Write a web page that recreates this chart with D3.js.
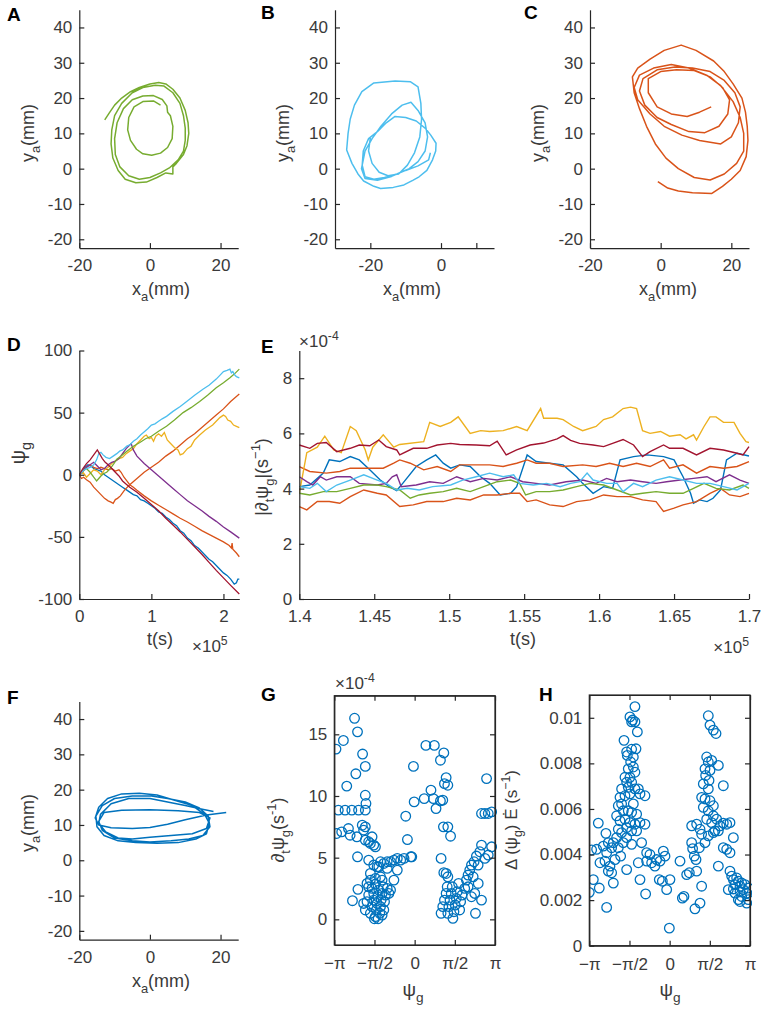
<!DOCTYPE html>
<html><head><meta charset="utf-8">
<script src="https://cdn.jsdelivr.net/npm/d3@7"></script>
<style>body{margin:0;background:#fff} text{font-family:"Liberation Sans",Arial,sans-serif}</style>
</head><body><svg id="c" width="764" height="1012"></svg>
<script>
// ---------------- DATA ----------------
const colors = {blue:'#0072BD', orange:'#D95319', yellow:'#EDB120', purple:'#7E2F8E', green:'#77AC30', lightblue:'#4DBEEE', darkred:'#A2142F'};
const trajTicksY = [-20,-10,0,10,20,30,40];

// Panel A trajectory (x_a, y_a) in mm
const trajA = [[-12.8,13.8],[-11.5,15.8],[-10,18],[-8,20],[-5.5,21.8],[-3,23],[0,24],[2.5,24.4],[4.5,24],[6.5,22.5],[8.5,20],[10,16.5],[10.8,13],[11,10],[10.5,6.5],[9.5,4],[7.5,1.5],[6.5,0.5],[6.5,-1.5],[4.5,-1.2],[2,-2.5],[-1,-3.8],[-4,-4],[-7,-3],[-9,-0.5],[-10.5,3],[-11,7],[-10.8,11],[-10,15],[-8,18.5],[-5,21.5],[-2,23],[1.5,23.6],[4,23.4],[6.5,21.5],[8.5,18.5],[9.5,15],[10,11.5],[10,8],[9.5,5],[8,2.5],[5.5,0.2],[3,-1.2],[0,-2.5],[-3,-3],[-6,-2],[-8.5,0.5],[-9.8,4],[-10,8.5],[-9.3,13],[-7.5,17],[-5,19.5],[-2,20.6],[1,20.7],[3.5,19.6],[4.8,17.8],[5,16],[5.8,15],[6.5,12],[6.3,8.5],[5,6],[3,4.4],[0.5,3.8],[-2,4.2],[-3.8,5.5],[-5.5,8],[-6.3,11],[-6,14.5],[-4.5,17.5],[-2,19],[1,19.2],[3,18]];
// Panel B trajectory
const trajB = [[-20,8.7],[-20.5,5],[-19.5,1.5],[-17.5,-1],[-15,-2],[-12,-1.5],[-9.5,1],[-7.5,4.5],[-6,9],[-5.5,14],[-5.7,18.5],[-6.5,23.2],[-8.6,24.6],[-13,24.8],[-19,24.3],[-22.4,21.8],[-24.5,18],[-25.7,14],[-26.3,10],[-26.7,5.3],[-25.2,1.5],[-23.5,-1.5],[-21.9,-3.5],[-19,-5],[-17.1,-5.6],[-13.5,-5.3],[-10.5,-4.6],[-8,-3.3],[-6.2,-2.3],[-4,-0.5],[-2.4,2.5],[-1.5,5],[-1.4,7.2],[-2.9,9.5],[-4.5,11.5],[-7,13.5],[-10,14.5],[-13,14.8],[-15.5,13],[-18,10.5],[-20.5,8.5],[-22,5],[-22.3,1],[-21.5,-2.3],[-19,-3],[-16,-2.5],[-12.5,-1.5],[-9,0],[-6.5,2],[-4.5,5],[-3.8,9],[-4.5,13],[-6.5,16.5],[-8.5,18.8],[-11,18],[-14,15.5],[-17,12],[-19.5,8.5],[-21.5,5],[-22.5,0],[-21.5,-2.8],[-18,-3.3],[-14,-2.2],[-10,-0.5],[-6.5,0.8],[-3.5,2.5],[-3,4.5]];
// Panel C trajectory
const trajC = [[-0.8,-3.7],[2,-5.5],[5,-6.3],[9,-6.8],[14.5,-7],[17.5,-5],[20,-3],[22.5,-0.5],[24.2,3.4],[24.7,8],[24.5,12],[24,16],[23,20],[20.5,24],[18,27.5],[15,30.5],[10,33.5],[5.8,35],[1,33.5],[-3,31],[-6.5,28.5],[-8,26],[-7.5,21.5],[-6,17],[-4,12],[-1.5,7],[1.5,3],[5,0],[9.5,-2.5],[14,-3.2],[18,-1.5],[21.5,1.5],[23.5,5],[23.5,10],[22.5,14.5],[20.5,19],[17,23.5],[13,26.5],[8,28.5],[3,29.5],[-2,28.5],[-6,26.5],[-7.5,23],[-6.5,19.5],[-3,15.5],[1,12],[6,9.5],[11,8],[17,7],[20,9],[22,13],[22.5,17.5],[21,21.5],[18,25],[14,27.5],[9,28.5],[4,28.8],[-1,28],[-5,25.5],[-6,22],[-4.5,18],[-1,14.5],[3,12.5],[8,10.5],[12.5,10.2],[16.5,12],[19,15.5],[19.5,19.5],[17.5,23],[14,26],[9.5,27.8],[4.5,28],[0,27.5],[-3.5,25.5],[-3.5,21.5],[-1,17.5],[3,15.5],[7.5,14.8],[11,16],[14.3,17.5]];
// Panel F trajectory
const trajF = [[21.6,13.5],[16,12.8],[10,11.5],[5,10.2],[0,9.3],[-5,9],[-11,9.2],[-14.5,10],[-15.5,12],[-14.5,15],[-12,17.5],[-8,18.8],[-3,19],[2,18.5],[7,17],[12,15.5],[15.5,13],[16.8,10.5],[16,7.5],[13,6],[8,5],[2,4.8],[-4,5],[-9,5.5],[-13,7],[-15,9.5],[-15.3,12.5],[-13.5,15.5],[-10,17.5],[-5,18.2],[0,18.3],[5,17.5],[10,16.5],[14,14.8],[16.5,12.5],[17,9.5],[15,7],[11,6],[6,5.5],[0,5.2],[-5,5.5],[-10,6.3],[-13.5,8.5],[-14.5,11],[-13,13.5],[-8,14.2],[0,14.3],[8,14],[14,13.5],[17,12],[16,9],[12,7.5],[6,7],[0,6.5],[-5,6],[-9,6.3],[-12.5,8],[-14.5,10.5],[-14,13],[-11,16],[-6,17.5],[0,17.5],[5,16.5],[10,15.5],[14.5,14.5],[18,13.8]];

// Panel D: psi_g vs t (t in units of 1e5 s)
const dBlue = [[0,0],[0.04,3],[0.08,6],[0.12,8],[0.16,7],[0.2,5],[0.25,4],[0.3,3],[0.35,0],[0.4,-2],[0.45,-4],[0.5,-6],[0.55,-8],[0.6,-10],[0.65,-12],[0.7,-14],[0.75,-16],[0.8,-17],[0.85,-20],[0.9,-21],[0.95,-23],[1.0,-25],[1.05,-27],[1.1,-30],[1.15,-31],[1.2,-34],[1.25,-36],[1.3,-39],[1.35,-41],[1.4,-45],[1.45,-47],[1.5,-51],[1.55,-53],[1.6,-57],[1.65,-59],[1.7,-62],[1.75,-65],[1.8,-68],[1.85,-70],[1.9,-73],[1.95,-76],[2.0,-79],[2.05,-81],[2.1,-84],[2.15,-88],[2.18,-87],[2.2,-84],[2.22,-84]];
const dOrangeUp = [[0,0],[0.03,-3],[0.06,-2],[0.1,-4],[0.15,-6],[0.2,-10],[0.25,-13],[0.3,-16],[0.35,-19],[0.4,-21],[0.44,-22],[0.47,-23],[0.5,-20],[0.53,-19],[0.57,-17],[0.62,-13],[0.65,-11],[0.7,-8],[0.8,-3],[0.9,2],[1.0,6],[1.1,10],[1.2,15],[1.3,19],[1.4,24],[1.5,29],[1.6,33],[1.7,38],[1.8,43],[1.9,48],[2.0,53],[2.1,59],[2.22,65]];
const dOrangeDown = [[0,0],[0.05,3],[0.1,6],[0.15,8],[0.2,6],[0.25,5],[0.3,6],[0.35,5],[0.4,4],[0.45,5],[0.5,3],[0.55,4],[0.58,2],[0.62,-2],[0.66,-5],[0.7,-8],[0.75,-10],[0.8,-12.5],[0.9,-17],[1.0,-21],[1.1,-24.5],[1.2,-28],[1.3,-31.5],[1.4,-35],[1.5,-38],[1.6,-41.5],[1.7,-45],[1.8,-48],[1.9,-51],[2.0,-54],[2.08,-57],[2.11,-59],[2.12,-55],[2.13,-60],[2.18,-63],[2.22,-66]];
const dYellow = [[0,0],[0.05,2],[0.1,-2],[0.15,1],[0.2,4],[0.25,3],[0.3,0],[0.35,4],[0.4,6],[0.45,9],[0.5,11],[0.55,13],[0.6,14],[0.65,17],[0.7,19],[0.75,21],[0.8,25],[0.85,28],[0.9,31],[0.93,32],[0.97,29],[1.0,30],[1.03,27],[1.06,31],[1.1,33],[1.14,31],[1.18,34],[1.22,28],[1.27,25],[1.32,22],[1.37,20],[1.4,16],[1.44,17],[1.5,21],[1.55,23],[1.6,28],[1.67,32],[1.75,36],[1.8,38],[1.85,40],[1.9,43],[1.95,46],[2.0,48],[2.03,47],[2.06,44],[2.1,43],[2.14,40],[2.18,39],[2.22,38]];
const dPurple = [[0,0],[0.05,3],[0.1,6],[0.15,8],[0.2,10],[0.25,7],[0.3,4],[0.35,5],[0.4,8],[0.45,10],[0.5,11],[0.55,13],[0.6,17],[0.65,21],[0.7,24],[0.72,25],[0.75,20],[0.8,15],[0.9,9],[1.0,4],[1.1,-1],[1.2,-6],[1.3,-11],[1.4,-16],[1.5,-21],[1.6,-25],[1.7,-29],[1.8,-33.5],[1.9,-37.5],[2.0,-42],[2.1,-46],[2.22,-51]];
const dGreen = [[0,0],[0.05,3],[0.1,5],[0.15,2],[0.2,-2],[0.24,-5],[0.27,-3],[0.3,-1],[0.34,1],[0.38,2],[0.43,5],[0.48,9],[0.52,12.5],[0.58,15],[0.66,19],[0.75,23],[0.84,26],[0.92,29],[1.0,31],[1.1,35],[1.21,39],[1.32,44],[1.44,50],[1.55,54],[1.67,59],[1.78,64],[1.9,70],[2.0,74],[2.09,78],[2.15,81],[2.22,85]];
const dLightBlue = [[0,0],[0.05,3],[0.1,5],[0.15,6],[0.2,8],[0.24,12],[0.27,17],[0.3,18],[0.33,16],[0.37,14],[0.42,13],[0.47,15],[0.52,17],[0.56,19],[0.6,20],[0.66,23],[0.7,24],[0.75,27],[0.8,29],[0.85,32],[0.89,34],[0.95,37],[1.0,40],[1.05,41],[1.1,43],[1.15,45],[1.21,47],[1.3,51],[1.4,55],[1.49,59],[1.6,64],[1.72,69],[1.8,72],[1.9,77],[1.95,80],[2.0,83],[2.05,84],[2.09,85],[2.11,82],[2.13,83],[2.16,80],[2.18,79],[2.22,78]];
const dDarkRed = [[0,0],[0.05,5],[0.1,9],[0.15,12],[0.2,16],[0.25,20],[0.28,17],[0.32,13],[0.36,10],[0.4,8],[0.45,5],[0.5,2],[0.55,-1],[0.6,-5],[0.7,-10],[0.8,-14],[0.9,-19],[1.0,-24],[1.1,-29],[1.2,-35],[1.3,-40.5],[1.4,-46],[1.5,-52],[1.6,-58],[1.7,-64],[1.8,-70.5],[1.9,-77],[2.0,-83],[2.1,-89],[2.22,-96]];

// Panel E: |d psi/dt| (units 1e-4) vs t (units 1e5 s)
const eBlue = [[1.400,4.07],[1.407,4.13],[1.416,4.56],[1.420,5.04],[1.427,4.98],[1.434,5.16],[1.440,5.04],[1.447,4.68],[1.454,4.31],[1.460,4.07],[1.465,3.93],[1.469,4.19],[1.478,4.8],[1.485,5.04],[1.491,5.22],[1.496,4.92],[1.501,4.74],[1.507,4.86],[1.514,4.8],[1.521,4.43],[1.527,4.19],[1.534,3.77],[1.541,3.83],[1.545,4.07],[1.552,5.22],[1.558,4.98],[1.567,4.92],[1.576,4.86],[1.585,4.43],[1.589,4.19],[1.596,3.83],[1.603,4.07],[1.609,4.01],[1.614,5.04],[1.623,5.16],[1.632,5.22],[1.643,5.16],[1.650,5.04],[1.656,4.43],[1.661,3.83],[1.663,3.47],[1.667,3.59],[1.672,3.53],[1.676,3.65],[1.681,3.95],[1.685,5.04],[1.692,5.28],[1.700,5.18]];
const eOrangeHi = [[1.400,4.8],[1.407,4.62],[1.418,4.56],[1.427,4.62],[1.434,4.74],[1.445,4.74],[1.456,4.74],[1.463,4.92],[1.467,5.04],[1.474,4.92],[1.483,4.68],[1.492,4.8],[1.501,4.62],[1.507,4.86],[1.516,4.86],[1.527,4.86],[1.536,4.8],[1.545,4.92],[1.552,5.04],[1.558,4.92],[1.567,4.92],[1.576,4.8],[1.589,4.86],[1.598,4.8],[1.607,4.92],[1.616,4.8],[1.625,4.92],[1.634,4.8],[1.643,5.04],[1.647,4.74],[1.656,4.86],[1.665,4.56],[1.674,4.8],[1.683,4.74],[1.692,4.8],[1.700,4.98]];
const eOrangeLo = [[1.400,3.35],[1.405,3.23],[1.412,3.53],[1.420,3.53],[1.427,3.47],[1.434,3.71],[1.443,3.95],[1.452,3.83],[1.458,3.77],[1.467,3.35],[1.476,3.41],[1.485,3.53],[1.496,3.53],[1.505,3.65],[1.514,3.59],[1.523,3.77],[1.532,3.77],[1.541,3.83],[1.547,3.83],[1.552,3.53],[1.558,3.59],[1.567,3.41],[1.576,3.35],[1.585,3.53],[1.594,3.59],[1.603,3.77],[1.612,3.71],[1.621,3.71],[1.629,3.59],[1.638,3.53],[1.643,3.17],[1.650,3.29],[1.656,3.41],[1.665,3.53],[1.674,3.83],[1.681,4.01],[1.687,3.77],[1.694,3.71],[1.700,3.83]];
const eYellow = [[1.400,3.83],[1.405,5.3],[1.412,5.5],[1.417,5.9],[1.423,5.4],[1.428,5.3],[1.434,6.25],[1.438,6.1],[1.444,5.4],[1.446,5.04],[1.449,5.5],[1.456,5.95],[1.463,5.5],[1.467,5.6],[1.483,5.7],[1.487,6.4],[1.494,6.25],[1.501,6.4],[1.506,6.6],[1.514,6.0],[1.521,6.1],[1.527,6.07],[1.536,6.1],[1.545,6.25],[1.552,6.1],[1.561,6.9],[1.563,6.55],[1.572,6.55],[1.576,6.5],[1.583,6.25],[1.589,6.1],[1.598,6.25],[1.603,6.5],[1.609,6.6],[1.616,6.9],[1.621,6.95],[1.625,6.9],[1.629,6.1],[1.634,6.0],[1.641,6.07],[1.647,5.9],[1.654,5.95],[1.658,5.8],[1.663,5.95],[1.665,5.76],[1.670,6.25],[1.674,6.6],[1.678,6.6],[1.683,6.4],[1.690,6.4],[1.694,6.0],[1.698,5.7],[1.700,5.67]];
const ePurple = [[1.400,4.43],[1.405,4.25],[1.409,4.13],[1.414,4.43],[1.418,4.31],[1.425,4.43],[1.434,4.43],[1.440,4.19],[1.452,4.13],[1.458,4.19],[1.462,4.43],[1.465,4.5],[1.468,4.07],[1.478,4.13],[1.487,4.25],[1.496,4.19],[1.505,4.43],[1.514,4.25],[1.523,4.37],[1.532,4.31],[1.541,4.43],[1.549,4.25],[1.558,4.19],[1.567,4.13],[1.578,4.25],[1.589,4.31],[1.598,4.19],[1.605,4.37],[1.612,4.25],[1.621,4.31],[1.629,4.25],[1.638,4.19],[1.645,4.25],[1.654,4.31],[1.663,4.37],[1.672,4.43],[1.678,4.25],[1.687,4.5],[1.694,4.31],[1.700,4.19]];
const eGreen = [[1.400,3.83],[1.407,3.77],[1.416,3.89],[1.425,3.89],[1.434,4.01],[1.443,4.13],[1.452,4.13],[1.458,4.07],[1.467,3.95],[1.474,3.65],[1.480,3.77],[1.487,3.83],[1.496,3.89],[1.505,4.01],[1.514,3.89],[1.523,4.07],[1.532,4.25],[1.541,4.31],[1.547,4.19],[1.551,3.77],[1.558,3.89],[1.567,3.89],[1.576,3.95],[1.585,4.07],[1.594,4.19],[1.603,4.13],[1.612,3.95],[1.621,3.77],[1.629,3.83],[1.638,3.89],[1.647,3.83],[1.656,3.83],[1.663,4.01],[1.670,4.19],[1.678,4.01],[1.687,3.95],[1.696,4.13],[1.700,4.01]];
const eLightBlue = [[1.400,4.07],[1.407,4.01],[1.412,4.19],[1.418,3.89],[1.425,4.13],[1.434,4.31],[1.443,4.5],[1.452,4.31],[1.458,4.19],[1.465,3.95],[1.472,4.01],[1.480,3.95],[1.489,4.07],[1.501,4.13],[1.509,4.31],[1.518,4.43],[1.527,4.56],[1.536,4.43],[1.543,4.5],[1.547,4.19],[1.556,4.13],[1.565,4.19],[1.574,4.07],[1.581,4.19],[1.587,4.25],[1.592,4.56],[1.596,4.31],[1.605,4.19],[1.612,4.19],[1.616,3.89],[1.623,4.19],[1.629,4.07],[1.638,4.31],[1.647,4.43],[1.656,4.31],[1.665,4.19],[1.674,4.19],[1.683,4.07],[1.692,3.95],[1.700,4.19]];
const eDarkRed = [[1.400,5.58],[1.407,5.46],[1.412,5.64],[1.418,5.67],[1.425,5.34],[1.434,5.46],[1.440,5.58],[1.447,5.55],[1.453,5.76],[1.458,5.52],[1.465,5.4],[1.467,5.22],[1.476,5.46],[1.485,5.46],[1.492,5.58],[1.501,5.64],[1.507,5.6],[1.518,5.58],[1.527,5.55],[1.532,5.72],[1.538,5.22],[1.545,5.4],[1.554,5.58],[1.563,5.65],[1.572,5.8],[1.576,5.92],[1.581,5.75],[1.587,5.64],[1.596,5.58],[1.603,5.52],[1.609,5.64],[1.616,5.78],[1.623,5.58],[1.629,5.16],[1.634,5.34],[1.643,5.58],[1.647,5.46],[1.656,5.46],[1.665,5.22],[1.674,5.46],[1.683,5.4],[1.692,5.28],[1.696,5.22],[1.700,5.52]];

// Panel G: (psi_g / pi, d_t psi_g in 1e-4 s^-1)
const gPoints = [[-0.979,13.8],[-0.887,14.5],[-0.748,16.3],[-0.711,15.2],[-0.648,13.4],[-0.614,12.4],[-0.732,11.8],[-0.845,10.8],[-0.95,8.85],[-0.866,8.85],[-0.782,8.85],[-0.698,8.85],[-0.614,10.06],[-0.606,9.39],[-0.614,8.85],[-0.971,6.96],[-0.908,7.09],[-0.824,7.36],[-0.803,6.82],[-0.719,6.69],[-0.652,7.63],[-0.614,7.5],[-0.635,7.23],[-0.614,6.42],[-0.572,6.29],[-0.551,6.15],[-0.509,6.02],[-0.488,5.88],[-0.53,6.69],[-0.711,5.07],[-0.572,4.8],[-0.551,3.72],[-0.509,4.4],[-0.467,4.26],[-0.425,4.67],[-0.384,4.53],[-0.342,4.67],[-0.3,4.67],[-0.258,4.8],[-0.216,4.94],[-0.174,4.8],[-0.132,4.94],[-0.048,5.07],[-0.342,4.13],[-0.425,3.45],[-0.405,3.18],[-0.258,3.18],[-0.216,3.99],[-0.706,2.43],[-0.774,1.51],[-0.572,2.64],[-0.614,0.76],[-0.593,1.43],[-0.572,1.97],[-0.551,0.49],[-0.53,1.03],[-0.509,1.56],[-0.509,2.1],[-0.488,0.22],[-0.476,0.76],[-0.467,1.29],[-0.459,1.83],[-0.446,2.37],[-0.434,0.49],[-0.425,1.03],[-0.417,1.56],[-0.405,2.1],[-0.392,2.64],[-0.384,0.76],[-0.375,1.43],[-0.363,1.97],[-0.342,2.51],[-0.321,2.1],[-0.3,2.37],[-0.551,3.18],[-0.593,2.91],[-0.53,2.51],[-0.488,2.86],[-0.635,1.29],[-0.501,0.05],[-0.455,0.05],[-0.405,0.35],[-0.446,4.26],[-0.488,3.32],[-0.111,8.36],[-0.09,6.47],[-0.036,5.07],[-0.015,12.4],[-0.006,9.52],[0.14,14.1],[0.245,14.1],[0.363,13.49],[0.321,12.9],[0.392,11.49],[0.413,10.87],[0.371,11.0],[0.203,10.47],[0.119,9.79],[0.233,9.79],[0.321,9.6],[0.35,9.66],[0.266,8.98],[0.358,7.5],[0.413,7.5],[0.447,6.74],[0.329,4.94],[0.363,3.78],[0.413,3.45],[0.392,3.72],[0.329,0.49],[0.35,1.03],[0.371,1.56],[0.392,2.1],[0.405,2.64],[0.413,0.49],[0.426,1.03],[0.44,1.56],[0.455,2.1],[0.468,2.64],[0.476,0.08],[0.489,0.62],[0.505,1.16],[0.518,1.7],[0.53,2.24],[0.547,2.91],[0.56,0.76],[0.572,1.43],[0.589,1.97],[0.623,2.51],[0.644,3.18],[0.665,3.59],[0.686,3.99],[0.707,4.4],[0.74,4.67],[0.769,5.13],[0.811,5.48],[0.832,6.02],[0.874,4.94],[0.916,5.21],[0.958,5.88],[0.79,4.4],[0.728,3.45],[0.791,2.91],[0.748,2.1],[0.707,1.83],[0.832,1.56],[0.757,0.49],[0.665,2.64],[0.832,8.58],[0.874,8.58],[0.916,8.58],[0.958,8.71],[0.895,11.41]];

// Panel H: (psi_g / pi, Delta(psi_g) E-dot in 1e-3 s^-1)
const hPoints = [[-0.432,10.49],[-0.494,10.04],[-0.461,9.9],[-0.473,9.82],[-0.432,9.82],[-0.402,9.38],[-0.568,9.01],[-0.535,8.5],[-0.527,8.35],[-0.473,8.62],[-0.452,8.28],[-0.419,8.64],[-0.485,8.06],[-0.452,7.84],[-0.515,7.76],[-0.432,7.61],[-0.556,7.39],[-0.494,7.39],[-0.535,7.17],[-0.473,7.17],[-0.598,6.88],[-0.515,6.95],[-0.432,6.88],[-0.39,6.88],[-0.369,6.66],[-0.307,6.58],[-0.618,6.51],[-0.556,6.58],[-0.494,6.66],[-0.598,6.22],[-0.639,6.14],[-0.577,5.92],[-0.515,5.92],[-0.452,6.22],[-0.473,5.85],[-0.411,5.77],[-0.66,5.7],[-0.618,5.48],[-0.556,5.55],[-0.494,5.4],[-0.432,5.33],[-0.369,5.4],[-0.307,5.33],[-0.535,5.18],[-0.639,5.11],[-0.598,4.96],[-0.473,5.04],[-0.411,5.04],[-0.349,4.52],[-0.535,4.74],[-0.66,4.74],[-0.701,4.52],[-0.639,4.3],[-0.577,4.52],[-0.473,4.45],[-0.61,3.93],[-0.535,3.34],[-0.39,3.64],[-0.369,2.9],[-0.299,2.27],[-1.0,2.34],[-0.95,2.9],[-0.971,4.2],[-0.909,4.23],[-0.888,5.38],[-0.867,3.64],[-0.876,2.53],[-0.784,1.68],[-0.793,4.93],[-0.826,4.37],[-0.805,3.71],[-0.784,4.08],[-0.763,3.27],[-0.743,3.49],[-0.722,3.2],[-0.701,2.75],[-0.763,4.52],[-0.722,4.3],[-0.68,3.78],[-0.286,4.08],[-0.286,3.71],[-0.224,3.64],[-0.245,4.0],[-0.183,3.49],[-0.162,3.78],[-0.12,3.71],[-0.079,4.15],[-0.058,3.93],[-0.129,2.9],[-0.091,2.83],[-0.037,2.46],[0.004,2.9],[-0.004,0.77],[0.129,3.71],[0.158,2.09],[0.178,2.16],[0.212,3.12],[0.245,3.2],[0.286,4.26],[0.307,3.93],[0.328,3.78],[0.315,1.62],[0.378,1.87],[0.336,3.27],[0.398,2.61],[0.274,4.52],[0.369,4.3],[0.481,10.09],[0.502,9.68],[0.544,9.46],[0.577,9.31],[0.606,7.91],[0.461,8.28],[0.481,8.06],[0.523,8.13],[0.44,7.76],[0.502,7.69],[0.448,7.47],[0.49,7.25],[0.419,7.1],[0.668,7.02],[0.481,6.88],[0.398,6.51],[0.44,6.44],[0.502,6.36],[0.419,6.07],[0.481,5.92],[0.544,6.14],[0.544,5.7],[0.461,5.55],[0.523,5.4],[0.585,5.55],[0.627,5.26],[0.668,5.38],[0.71,5.33],[0.751,5.4],[0.606,5.04],[0.544,4.96],[0.481,4.82],[0.398,4.89],[0.336,5.33],[0.274,5.26],[0.378,5.11],[0.44,4.52],[0.564,5.04],[0.793,4.74],[0.668,4.3],[0.71,4.23],[0.751,4.08],[0.606,3.49],[0.751,3.27],[0.772,3.05],[0.793,2.9],[0.813,2.68],[0.834,2.97],[0.855,2.83],[0.876,2.61],[0.896,2.75],[0.917,2.46],[0.938,2.68],[0.959,2.31],[0.979,2.53],[0.793,2.49],[0.73,2.46],[0.855,2.02],[0.876,1.94],[0.896,2.16],[0.959,1.87],[0.979,2.02],[0.876,2.38],[0.813,2.31]];

const piTickVals = [-1,-0.5,0,0.5,1];
const piTickLabels = ['\u2212\u03c0','\u2212\u03c0/2','0','\u03c0/2','\u03c0'];

// ---------------- DRAWING ----------------
const svg = d3.select('#c');
const AX = '#262626', TXT = '#3a3a3a';
const TICKFS = 17;
const fmt = d => String(+(+d).toFixed(6));

function rich(x, y, segs, size, anchor, rotate) {
  const t = svg.append('text').attr('x', x).attr('y', y).attr('font-size', size)
    .attr('fill', TXT).attr('text-anchor', anchor || 'middle');
  if (rotate) t.attr('transform', `rotate(${rotate},${x},${y})`);
  let shift = 0;
  segs.forEach(s => {
    const target = s.sub ? size * 0.32 : s.sup ? -size * 0.42 : 0;
    t.append('tspan').text(s.t).attr('dy', target - shift)
      .attr('font-size', (s.sub || s.sup) ? size * 0.72 : size);
    shift = target;
  });
  return t;
}
function letter(x, y, s) {
  svg.append('text').attr('x', x).attr('y', y).attr('font-size', 19).attr('font-weight', 'bold')
    .attr('fill', '#000').text(s);
}

function panel(o) {
  const g = svg.append('g');
  const x = d3.scaleLinear().domain(o.xd).range([o.l, o.r]);
  const y = d3.scaleLinear().domain(o.yd).range([o.b, o.t]);
  const id = 'clip' + o.name;
  g.append('clipPath').attr('id', id).append('rect')
    .attr('x', o.l).attr('y', o.t - 2).attr('width', o.r - o.l + 2).attr('height', o.b - o.t + 2);
  const plot = g.append('g').attr('clip-path', `url(#${id})`);
  const xa = g.append('g').attr('transform', `translate(0,${o.b})`)
    .call(d3.axisBottom(x).tickValues(o.xt).tickFormat(o.xf || fmt).tickSizeInner(-5).tickSizeOuter(0).tickPadding(o.xpad || 11));
  const ya = g.append('g').attr('transform', `translate(${o.l},0)`)
    .call(d3.axisLeft(y).tickValues(o.yt).tickFormat(o.yf || fmt).tickSizeInner(-5).tickSizeOuter(0).tickPadding(7));
  const axes = [xa, ya];
  if (o.box) {
    axes.push(g.append('g').attr('transform', `translate(0,${o.t})`)
      .call(d3.axisTop(x).tickValues(o.xt).tickFormat('').tickSizeInner(-5).tickSizeOuter(0)));
    axes.push(g.append('g').attr('transform', `translate(${o.r},0)`)
      .call(d3.axisRight(y).tickValues(o.yt).tickFormat('').tickSizeInner(-5).tickSizeOuter(0)));
  }
  axes.forEach(a => {
    a.attr('font-family', null).attr('font-size', null);
    a.selectAll('path,line').attr('stroke', AX).attr('stroke-width', 1.2);
    a.selectAll('text').attr('fill', TXT).attr('font-size', TICKFS);
  });
  if (o.xfont) xa.selectAll('text').attr('font-family', o.xfont).attr('font-size', 17);
  return {g, plot, x, y};
}

const line = (x, y) => d3.line().x(d => x(d[0])).y(d => y(d[1]));

// ---- Trajectory panels A, B, C, F ----
function trajPanel(name, l, r, xd, xt, b, t, data, color, xlabX, xlabY, ylabX, ylabY, extraXt) {
  const p = panel({name, l, r, t, b, xd, yd: [-22.5, 45], xt: xt.concat(extraXt || []), yt: trajTicksY,
    xf: d => xt.includes(d) ? fmt(d) : ''});
  p.plot.append('path').attr('d', line(p.x, p.y)(data)).attr('fill', 'none')
    .attr('stroke', color).attr('stroke-width', 1.5).attr('stroke-linejoin', 'round');
  rich(xlabX, xlabY, [{t: 'x'}, {t: 'a', sub: 1}, {t: '(mm)'}], 18);
  rich(ylabX, ylabY, [{t: 'y'}, {t: 'a', sub: 1}, {t: '(mm)'}], 18, 'middle', -90);
}
trajPanel('A', 79.3, 238.2, [-20, 25], [-20, 0, 20], 248.1, 9.8, trajA, colors.green, 161, 295, 34, 133);
trajPanel('B', 335, 494, [-30, 15], [-20, 0], 248.1, 9.8, trajB, colors.lightblue, 412, 295, 289, 133, [10]);
trajPanel('C', 590, 749, [-20, 25], [-20, 0, 20], 248.1, 9.8, trajC, colors.orange, 668, 295, 544, 133);
trajPanel('F', 79.3, 238.2, [-20, 25], [-20, 0, 20], 939.7, 701.4, trajF, colors.blue, 161, 987, 34, 823);

// ---- Panel D ----
{
  const p = panel({name: 'D', l: 79.3, r: 239.3, t: 350.5, b: 599, xd: [0, 2.22], yd: [-100, 100],
    xt: [0, 1, 2], yt: [-100, -50, 0, 50, 100]});
  const series = [[dBlue, colors.blue], [dOrangeUp, colors.orange], [dOrangeDown, colors.orange], [dYellow, colors.yellow],
    [dPurple, colors.purple], [dGreen, colors.green], [dLightBlue, colors.lightblue], [dDarkRed, colors.darkred]];
  series.forEach(([d, c]) => p.plot.append('path').attr('d', line(p.x, p.y)(d)).attr('fill', 'none')
    .attr('stroke', c).attr('stroke-width', 1.3));
  rich(160, 645, [{t: 't(s)'}], 18);
  rich(192, 652, [{t: '\u00d710'}, {t: '5', sup: 1}], 17, 'start');
  rich(25, 453, [{t: '\u03c8'}, {t: 'g', sub: 1}], 20, 'middle', -90);
}
// ---- Panel E ----
{
  const p = panel({name: 'E', l: 299.3, r: 749, t: 350.6, b: 599, xd: [1.4, 1.7], yd: [0, 9],
    xt: [1.4, 1.45, 1.5, 1.55, 1.6, 1.65, 1.7], yt: [0, 2, 4, 6, 8]});
  const series = [[eBlue, colors.blue], [eOrangeHi, colors.orange], [eOrangeLo, colors.orange], [eYellow, colors.yellow],
    [ePurple, colors.purple], [eGreen, colors.green], [eLightBlue, colors.lightblue], [eDarkRed, colors.darkred]];
  series.forEach(([d, c]) => p.plot.append('path').attr('d', line(p.x, p.y)(d)).attr('fill', 'none')
    .attr('stroke', c).attr('stroke-width', 1.4));
  rich(523, 645, [{t: 't(s)'}], 18);
  rich(749, 653, [{t: '\u00d710'}, {t: '5', sup: 1}], 17, 'end');
  rich(299, 347, [{t: '\u00d710'}, {t: '-4', sup: 1}], 17, 'start');
  rich(268, 477, [{t: '|\u2202'}, {t: 't', sub: 1}, {t: '\u03c8'}, {t: 'g', sub: 1}, {t: '|(s'}, {t: '\u22121', sup: 1}, {t: ')'}], 18, 'middle', -90);
}
// ---- Panel G ----
{
  const p = panel({name: 'G', l: 334.3, r: 495, t: 695.7, b: 945, xd: [-Math.PI, Math.PI], yd: [-2.08, 18.13],
    xt: piTickVals.map(v => v * Math.PI), yt: [0, 5, 10, 15], box: true, xfont: '"Liberation Serif",serif',
    xf: (d, i) => piTickLabels[i], xpad: 12});
  p.plot.selectAll('circle').data(gPoints).join('circle')
    .attr('cx', d => p.x(d[0] * Math.PI)).attr('cy', d => p.y(d[1])).attr('r', 4.8)
    .attr('fill', 'none').attr('stroke', colors.blue).attr('stroke-width', 1.3);
  p.g.append('rect').attr('x', 334.3).attr('y', 695.7).attr('width', 495 - 334.3).attr('height', 945 - 695.7)
    .attr('fill', 'none').attr('stroke', AX).attr('stroke-width', 1.2);
  rich(413, 996, [{t: '\u03c8'}, {t: 'g', sub: 1}], 19);
  rich(335, 689, [{t: '\u00d710'}, {t: '-4', sup: 1}], 17, 'start');
  rich(284, 830, [{t: '\u2202'}, {t: 't', sub: 1}, {t: '\u03c8'}, {t: 'g', sub: 1}, {t: '(s'}, {t: '-1', sup: 1}, {t: ')'}], 18, 'middle', -90);
}
// ---- Panel H ----
{
  const p = panel({name: 'H', l: 589.3, r: 750, t: 695, b: 945.7, xd: [-Math.PI, Math.PI], yd: [0, 0.011],
    xt: piTickVals.map(v => v * Math.PI), yt: [0, 0.002, 0.004, 0.006, 0.008, 0.01], box: true,
    xfont: '"Liberation Serif",serif', xf: (d, i) => piTickLabels[i], xpad: 12});
  p.plot.selectAll('circle').data(hPoints).join('circle')
    .attr('cx', d => p.x(d[0] * Math.PI)).attr('cy', d => p.y(d[1] / 1000)).attr('r', 4.8)
    .attr('fill', 'none').attr('stroke', colors.blue).attr('stroke-width', 1.3);
  p.g.append('rect').attr('x', 589.3).attr('y', 695).attr('width', 750 - 589.3).attr('height', 945.7 - 695)
    .attr('fill', 'none').attr('stroke', AX).attr('stroke-width', 1.2);
  rich(670, 996, [{t: '\u03c8'}, {t: 'g', sub: 1}], 19);
  rich(517, 820, [{t: '\u0394 (\u03c8'}, {t: 'g', sub: 1}, {t: ') \u0116 (s'}, {t: '\u22121', sup: 1}, {t: ')'}], 17, 'middle', -90);
}

letter(7, 21, 'A'); letter(261, 19, 'B'); letter(524, 19, 'C');
letter(7, 351, 'D'); letter(261, 353, 'E');
letter(7, 704, 'F'); letter(261, 701, 'G'); letter(539, 701, 'H');
</script></body></html>
